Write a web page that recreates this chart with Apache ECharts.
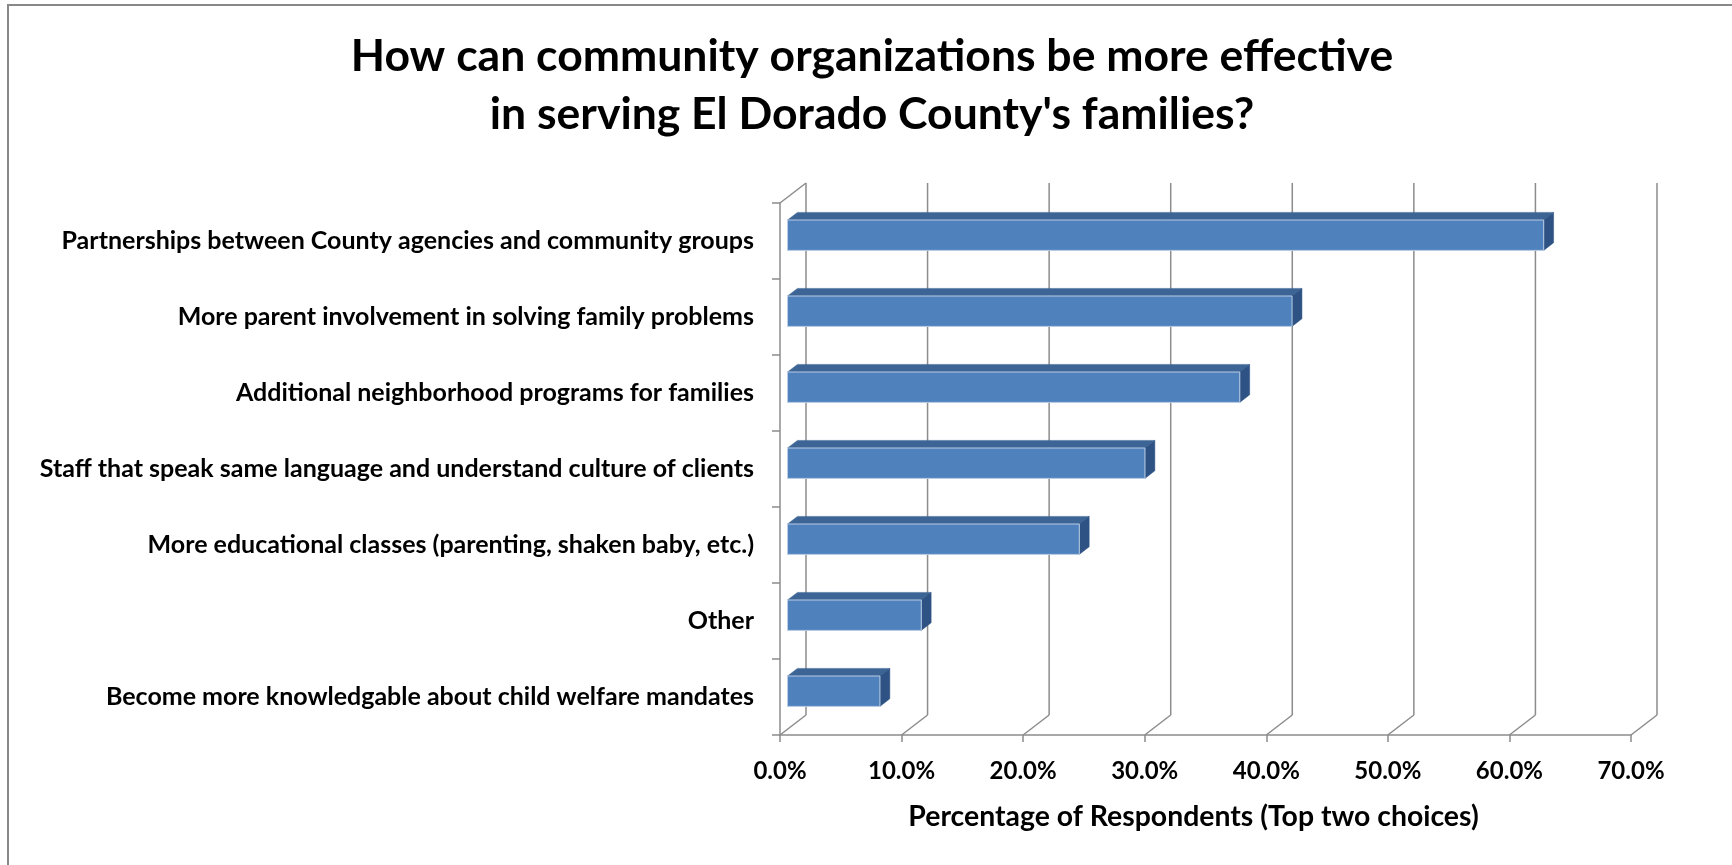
<!DOCTYPE html>
<html>
<head>
<meta charset="utf-8">
<script src="https://cdn.jsdelivr.net/npm/echarts@6/dist/echarts.min.js"></script>
<style>
  html, body { margin: 0; padding: 0; background: #ffffff; }
  #chart { width: 1732px; height: 865px; }
</style>
</head>
<body>
<div id="chart"></div>
<script>
const titleText = "How can community organizations be more effective\nin serving El Dorado County's families?";
const axisTitle = "Percentage of Respondents (Top two choices)";
const categories = [
  "Partnerships between County agencies and community groups",
  "More parent involvement in solving family problems",
  "Additional neighborhood programs for families",
  "Staff that speak same language and understand culture of clients",
  "More educational classes (parenting, shaken baby, etc.)",
  "Other",
  "Become more knowledgable about child welfare mandates"
];
const values = [62.2, 41.5, 37.2, 29.4, 24.0, 11.0, 7.6];
const tickValues = [0, 10, 20, 30, 40, 50, 60, 70];

const FONT = "Lato, 'Open Sans', sans-serif";
const DEPTH = [26, -20];     // front -> back wall offset (px)
const F0 = 0.29, F1 = 0.67;  // bar front/back depth fractions
const BAR_FRAC = 0.4;
const GRID_COLOR = '#8c8c8c';

const chart = echarts.init(document.getElementById('chart'), null, { renderer: 'canvas' });

function wallsRender(params, api) {
  const t = api.value(0);
  const last = categories.length - 1;
  const band = api.size([0, 1])[1];
  const pb = api.coord([t, last]);
  const pt = api.coord([t, 0]);
  const x = pb[0];
  const yb = pb[1] + band / 2;
  const yt = pt[1] - band / 2;
  const style = { stroke: GRID_COLOR, lineWidth: 1.5 };
  const children = [
    { type: 'line', shape: { x1: x, y1: yb, x2: x + DEPTH[0], y2: yb + DEPTH[1] }, style },
    { type: 'line', shape: { x1: x + DEPTH[0], y1: yb + DEPTH[1], x2: x + DEPTH[0], y2: yt + DEPTH[1] }, style }
  ];
  if (t === 0) {
    children.push({ type: 'line', shape: { x1: x, y1: yt, x2: x + DEPTH[0], y2: yt + DEPTH[1] }, style });
  }
  return { type: 'group', children };
}

function barRender(params, api) {
  const v = api.value(0);
  const i = api.value(1);
  const p0 = api.coord([0, i]);
  const p1 = api.coord([v, i]);
  const band = api.size([0, 1])[1];
  const h = band * BAR_FRAC;
  const x0 = p0[0] + F0 * DEPTH[0];
  const x1 = p1[0] + F0 * DEPTH[0];
  const yc = p0[1] + F0 * DEPTH[1];
  const yt = yc - h / 2, yb = yc + h / 2;
  const dx = (F1 - F0) * DEPTH[0], dy = (F1 - F0) * DEPTH[1];
  return {
    type: 'group',
    children: [
      { type: 'polygon', shape: { points: [[x0, yt], [x1, yt], [x1 + dx, yt + dy], [x0 + dx, yt + dy]] },
        style: { fill: '#3c6595', stroke: '#3c6595', lineWidth: 0.5 } },
      { type: 'polygon', shape: { points: [[x1, yt], [x1 + dx, yt + dy], [x1 + dx, yb + dy], [x1, yb]] },
        style: { fill: '#2e5283', stroke: '#2e5283', lineWidth: 0.5 } },
      { type: 'rect', shape: { x: x0, y: yt, width: x1 - x0, height: h },
        style: { fill: '#4f81bd', stroke: '#b9cde5', lineWidth: 1 } }
    ]
  };
}

const option = {
  backgroundColor: '#ffffff',
  animation: false,
  title: {
    text: titleText,
    left: 872,
    top: 28,
    textAlign: 'center',
    padding: 0,
    textStyle: { fontFamily: FONT, fontWeight: 'bold', fontSize: 44.5, lineHeight: 58, color: '#000' }
  },
  graphic: [
    { type: 'rect', shape: { x: 8, y: 5, width: 1800, height: 1000 },
      style: { fill: 'none', stroke: '#888888', lineWidth: 2 }, silent: true, z: -10 }
  ],
  grid: { left: 780, right: 1732 - 1631, top: 203, bottom: 865 - 735, containLabel: false },
  xAxis: {
    type: 'value', min: 0, max: 70, interval: 10,
    axisLine: { show: true, lineStyle: { color: GRID_COLOR, width: 1.5 } },
    axisTick: { show: true, length: 7, lineStyle: { color: GRID_COLOR, width: 1.5 } },
    splitLine: { show: false },
    axisLabel: { formatter: v => v.toFixed(1) + '%', fontFamily: FONT, fontWeight: 'bold', fontSize: 24, color: '#000', margin: 24 },
    name: axisTitle, nameLocation: 'middle', nameGap: 68,
    nameTextStyle: { fontFamily: FONT, fontWeight: 'bold', fontSize: 28.4, color: '#000', padding: [0, 24, 0, 0] }
  },
  yAxis: {
    type: 'category', inverse: true, data: categories,
    axisLine: { show: true, lineStyle: { color: GRID_COLOR, width: 1.5 } },
    axisTick: { show: true, length: 8, lineStyle: { color: GRID_COLOR, width: 1.5 } },
    splitLine: { show: false },
    axisLabel: { fontFamily: FONT, fontWeight: 'bold', fontSize: 25, color: '#000', margin: 26 }
  },
  series: [
    { type: 'custom', name: 'walls', renderItem: wallsRender, clip: false, silent: true, z: 1,
      encode: { x: 0 }, data: tickValues.map(t => [t]) },
    { type: 'custom', name: 'bars', renderItem: barRender, clip: false, z: 5,
      encode: { x: 0, y: 1 }, data: values.map((v, i) => [v, i]) }
  ]
};
chart.setOption(option);
</script>
</body>
</html>
